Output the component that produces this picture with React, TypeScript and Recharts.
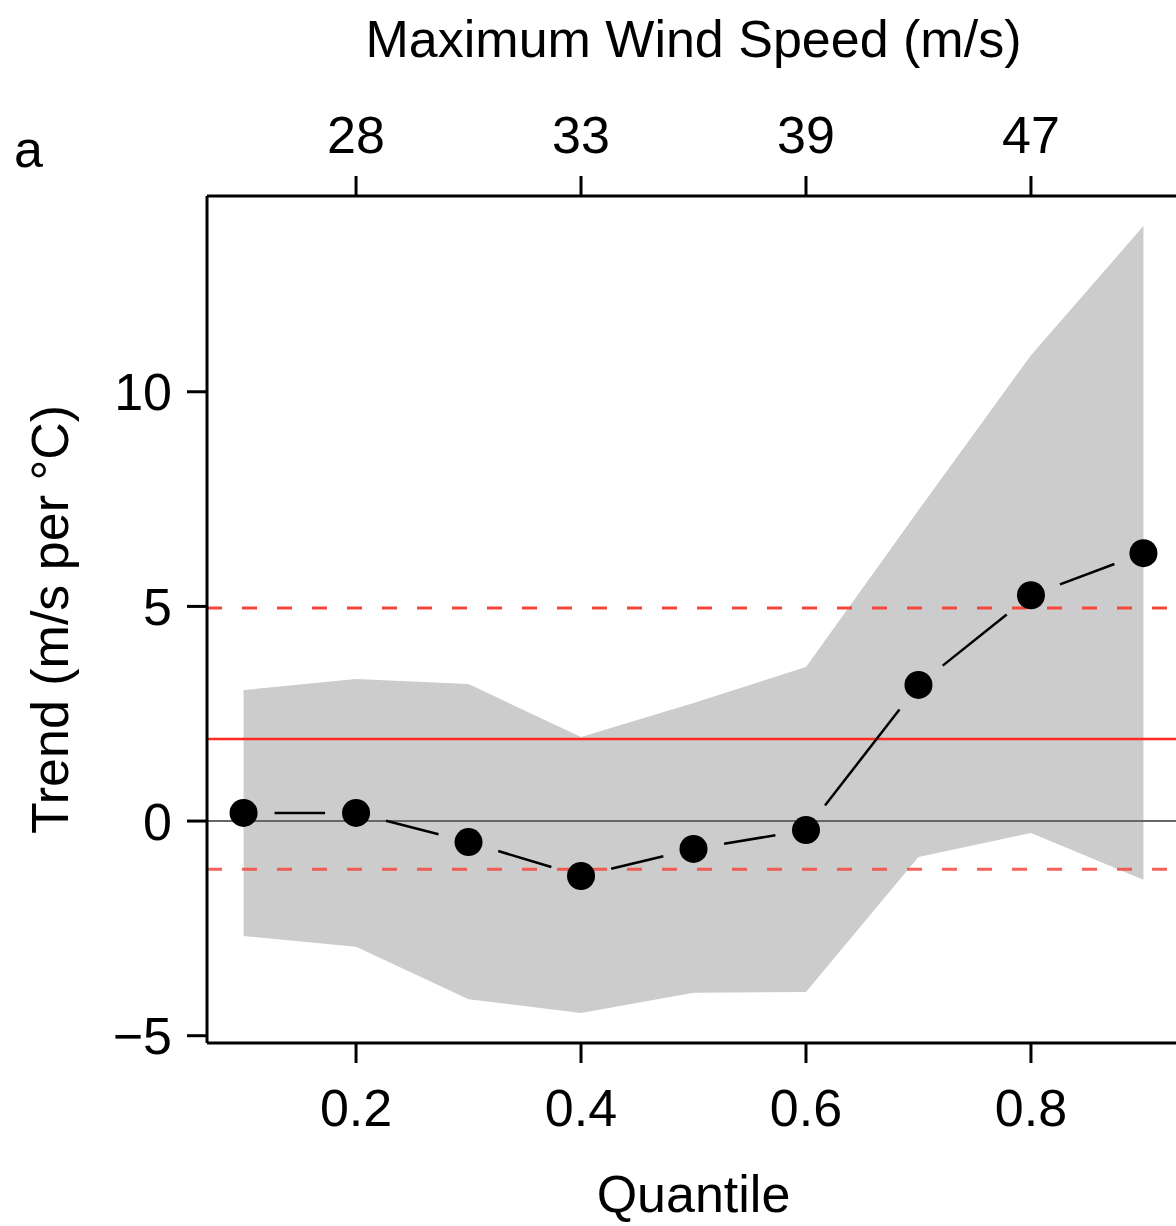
import { Area, ComposedChart, Line, ReferenceLine, XAxis, YAxis } from "recharts"

const quantiles = [0.1, 0.2, 0.3, 0.4, 0.5, 0.6, 0.7, 0.8, 0.9]
const trend = [0.19, 0.19, -0.49, -1.28, -0.65, -0.21, 3.17, 5.26, 6.24]
const bandLow = [-2.68, -2.93, -4.15, -4.47, -4.0, -3.98, -0.84, -0.28, -1.37]
const bandHigh = [3.05, 3.31, 3.19, 1.96, 2.75, 3.59, 7.24, 10.85, 13.86]

const quantileTicks = [0.2, 0.4, 0.6, 0.8]
const windTickLabels = ["28", "33", "39", "47"]
const trendTicks = [-5, 0, 5, 10]

const meanTrend = 1.91
const upperBound = 4.96
const lowerBound = -1.12

const chartData = quantiles.map((q, i) => ({
  q,
  trend: trend[i],
  band: [bandLow[i], bandHigh[i]],
}))

const FONT = "'Liberation Sans', Arial, Helvetica, sans-serif"
const tickStyle = { fill: "#000", fontSize: 52, fontFamily: FONT }
const axisStroke = { stroke: "#000", strokeWidth: 3 }
const GAP = 31

function GappedPoint(props: any) {
  const { cx, cy, index, points } = props
  const next = points ? points[index + 1] : null
  let seg = null
  if (next) {
    const dx = next.x - cx
    const dy = next.y - cy
    const len = Math.hypot(dx, dy)
    if (len > GAP * 2) {
      const ux = dx / len
      const uy = dy / len
      seg = (
        <line
          x1={cx + ux * GAP}
          y1={cy + uy * GAP}
          x2={next.x - ux * GAP}
          y2={next.y - uy * GAP}
          stroke="#000"
          strokeWidth={2.5}
        />
      )
    }
  }
  return (
    <g key={"pt-" + index}>
      {seg}
      <circle cx={cx} cy={cy} r={14} fill="#000" />
    </g>
  )
}

function TrendLabel(props: any) {
  const vb = props.viewBox || {}
  const cy = (vb.y ?? 196) + (vb.height ?? 847) / 2
  return (
    <text
      x={68}
      y={cy}
      transform={`rotate(-90, 68, ${cy})`}
      textAnchor="middle"
      fontSize={52}
      fontFamily={FONT}
      fill="#000"
    >
      Trend (m/s per °C)
    </text>
  )
}

export default function App() {
  return (
    <div style={{ position: "absolute", left: 0, top: 0, width: 1176, height: 1226, overflow: "hidden", background: "#fff" }}>
      <ComposedChart width={1190} height={1226} data={chartData} margin={{ top: 0, right: 10, bottom: 0, left: 0 }}>
        <XAxis
          dataKey="q"
          type="number"
          domain={[0.0675, 0.9325]}
          allowDataOverflow
          ticks={quantileTicks}
          tickFormatter={(v: number) => v.toFixed(1)}
          height={183}
          tickSize={20}
          tickMargin={26}
          tick={tickStyle}
          axisLine={axisStroke}
          tickLine={axisStroke}
          label={{ value: "Quantile", position: "insideBottom", offset: 14, fontSize: 52, fontFamily: FONT, fill: "#000" }}
        />
        <XAxis
          xAxisId="top"
          orientation="top"
          dataKey="q"
          type="number"
          domain={[0.0675, 0.9325]}
          allowDataOverflow
          ticks={quantileTicks}
          tickFormatter={(_v: number, i: number) => windTickLabels[i]}
          height={196}
          tickSize={20}
          tickMargin={23}
          tick={tickStyle}
          axisLine={axisStroke}
          tickLine={axisStroke}
          label={{ value: "Maximum Wind Speed (m/s)", position: "insideTop", offset: 20, fontSize: 52, fontFamily: FONT, fill: "#000" }}
        />
        <YAxis
          type="number"
          domain={[-5.17, 14.56]}
          allowDataOverflow
          ticks={trendTicks}
          tickFormatter={(v: number) => (v < 0 ? "\u2212" + Math.abs(v) : String(v))}
          width={207}
          tickSize={20}
          tickMargin={15}
          tick={tickStyle}
          axisLine={axisStroke}
          tickLine={axisStroke}
          label={<TrendLabel />}
        />
        <Area dataKey="band" stroke="none" fill="#cccccc" fillOpacity={1} isAnimationActive={false} />
        <ReferenceLine y={0} stroke="#666" strokeWidth={2} />
        <ReferenceLine y={meanTrend} stroke="#ff2a1f" strokeWidth={2.5} />
        <ReferenceLine y={upperBound} stroke="#f4473c" strokeWidth={3} strokeDasharray="15 20" />
        <ReferenceLine y={lowerBound} stroke="#f4473c" strokeOpacity={0.85} strokeWidth={3} strokeDasharray="15 20" />
        <Line dataKey="trend" stroke="none" dot={<GappedPoint />} activeDot={false} isAnimationActive={false} />
        <text x={14} y={167} fontSize={52} fontFamily={FONT} fill="#000">
          a
        </text>
      </ComposedChart>
    </div>
  )
}
